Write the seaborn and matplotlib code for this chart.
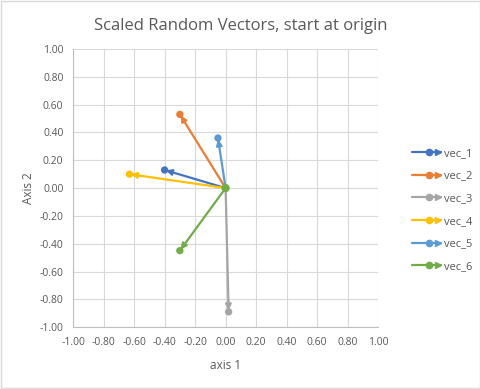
import matplotlib
matplotlib.use("Agg")
import matplotlib.pyplot as plt
import seaborn as sns
import pandas as pd
from matplotlib.lines import Line2D
from matplotlib.legend_handler import HandlerBase

# vector end points (all start at 0,0)
names = ["vec_1", "vec_2", "vec_3", "vec_4", "vec_5", "vec_6"]
x_end = [-0.40, -0.30, 0.02, -0.63, -0.05, -0.30]
y_end = [0.13, 0.53, -0.89, 0.10, 0.36, -0.45]
colors = ["#4472C4", "#ED7D31", "#A5A5A5", "#FFC000", "#5B9BD5", "#70AD47"]
ticks = [-1.0, -0.8, -0.6, -0.4, -0.2, 0.0, 0.2, 0.4, 0.6, 0.8, 1.0]

# each vector as a two-point series: origin -> end
rows = []
for n, xe, ye in zip(names, x_end, y_end):
    rows.append({"vec": n, "x": 0.0, "y": 0.0, "pt": 0})
    rows.append({"vec": n, "x": xe, "y": ye, "pt": 1})
df = pd.DataFrame(rows)


class ArrowLegend(HandlerBase):
    # line + dot + arrow head, like the excel legend key
    def create_artists(self, legend, orig, xd, yd, w, h, fs, trans):
        c = orig.get_color()
        y = h / 2 - yd
        ln = Line2D([-xd, -xd + w], [y, y], color=c, lw=1.6, transform=trans)
        dot = Line2D([-xd + w * 0.6], [y], color=c, marker="o", markersize=4.5,
                     lw=0, transform=trans)
        tip = Line2D([-xd + w * 0.9], [y], color=c, marker=">", markersize=5,
                     lw=0, transform=trans)
        return [ln, dot, tip]


sns.set_style("white")
plt.rcParams["font.family"] = ["Open Sans", "DejaVu Sans"]

fig = plt.figure(figsize=(4.81, 3.89), dpi=100)
ax = fig.add_axes([0.152, 0.159, 0.634, 0.715])

pal = dict(zip(names, colors))
sns.lineplot(data=df, x="x", y="y", hue="vec", units="vec", estimator=None,
             sort=False, palette=pal, lw=1.6, legend=False, ax=ax)

# arrow heads just behind the dot at the tip
for n, xe, ye, c in zip(names, x_end, y_end, colors):
    ax.annotate("", xy=(xe, ye), xytext=(xe * 0.9, ye * 0.9),
                arrowprops=dict(arrowstyle="-|>", color=c, lw=1.4,
                                mutation_scale=9, shrinkA=0, shrinkB=1))

ends = df[df["pt"] == 1]
sns.scatterplot(data=ends, x="x", y="y", hue="vec", palette=pal, s=28,
                edgecolor="none", legend=False, ax=ax, zorder=4)
sns.scatterplot(x=[0.0], y=[0.0], color=colors[-1], s=36, edgecolor="none",
                legend=False, ax=ax, zorder=5)

ax.set_xlim(-1, 1)
ax.set_ylim(-1, 1)
ax.set_xticks(ticks)
ax.set_yticks(ticks)
ax.set_xticklabels([f"{t:.2f}" for t in ticks])
ax.set_yticklabels([f"{t:.2f}" for t in ticks])
ax.grid(True, color="#D9D9D9", lw=0.8)
ax.set_axisbelow(True)
for s in ["top", "right"]:
    ax.spines[s].set_visible(False)
for s in ["left", "bottom"]:
    ax.spines[s].set_color("#BFBFBF")
    ax.spines[s].set_linewidth(0.8)
ax.tick_params(axis="both", length=4, width=0.8, color="#BFBFBF",
               labelsize=7.5, labelcolor="#595959", direction="out", pad=3)

ax.set_xlabel("axis 1", fontsize=8.5, color="#595959", labelpad=8)
ax.set_ylabel("Axis 2", fontsize=8.5, color="#595959", labelpad=3)
fig.suptitle("Scaled Random Vectors, start at origin", fontsize=12,
             color="#595959", y=0.955)

handles = [Line2D([0], [0], color=c) for c in colors]
fig.legend(handles, names, loc="center left", bbox_to_anchor=(0.835, 0.46),
           frameon=False, fontsize=8, labelcolor="#595959", handlelength=2.6,
           labelspacing=1.05, handletextpad=0.35,
           handler_map={Line2D: ArrowLegend()})

# outer chart border
fig.patches.append(plt.Rectangle((0.003, 0.003), 0.994, 0.994,
                                 transform=fig.transFigure, fill=False,
                                 edgecolor="#D9D9D9", lw=1))

fig.savefig("out.png", dpi=100)
